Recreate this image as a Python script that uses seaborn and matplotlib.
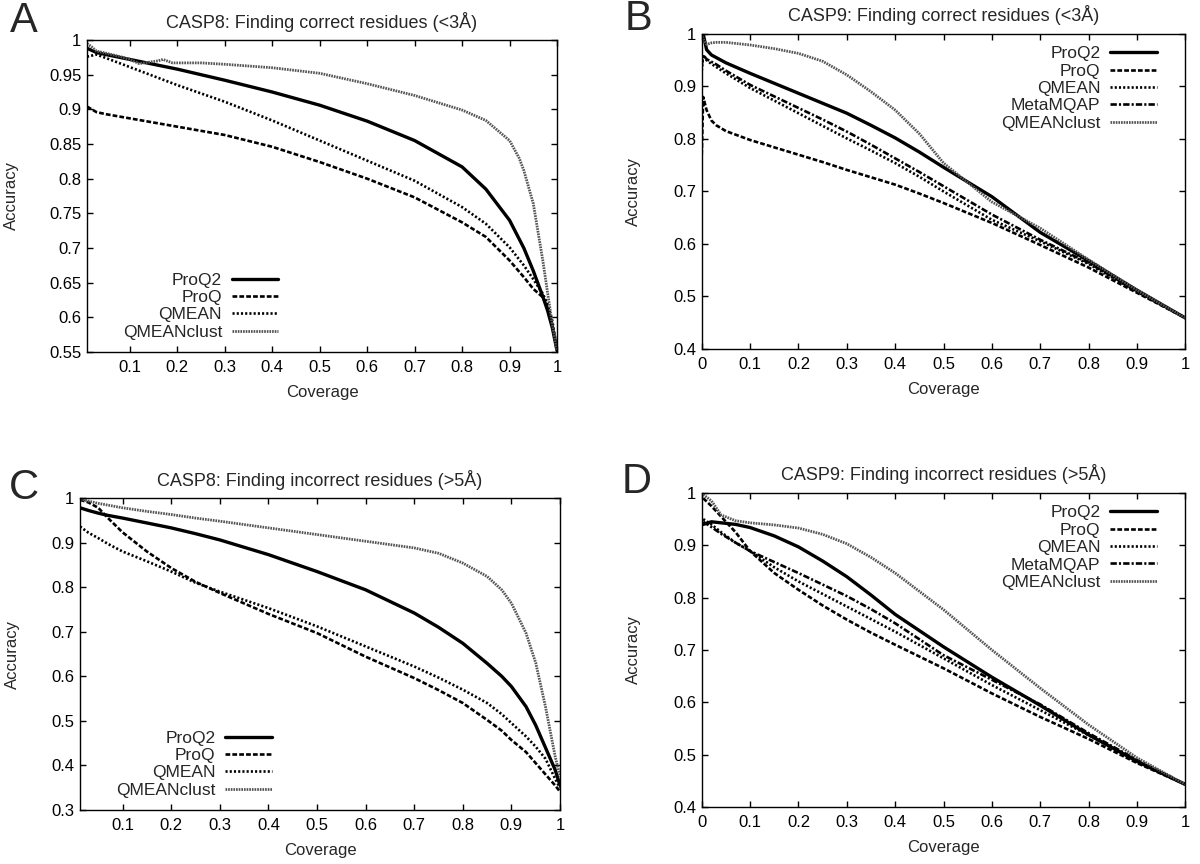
import numpy as np
import pandas as pd
import matplotlib
matplotlib.use('Agg')
import matplotlib.pyplot as plt
from matplotlib.ticker import FuncFormatter
import seaborn as sns

# --- data (coverage -> accuracy) ---

# Panel A: CASP8, correct residues (<3A)
cov_a = [0.01, 0.03, 0.05, 0.1, 0.15, 0.2, 0.3, 0.4, 0.5, 0.6, 0.7, 0.8, 0.85, 0.9, 0.93, 0.95, 0.97, 0.98, 0.99, 1.0]
a_proq2 = [0.988, 0.982, 0.979, 0.972, 0.965, 0.958, 0.942, 0.925, 0.906, 0.883, 0.855, 0.817, 0.785, 0.740, 0.700, 0.667, 0.630, 0.610, 0.585, 0.552]
a_proq = [0.904, 0.896, 0.893, 0.887, 0.881, 0.875, 0.863, 0.846, 0.824, 0.800, 0.773, 0.737, 0.716, 0.682, 0.658, 0.641, 0.629, 0.614, 0.590, 0.552]
a_qmean = [0.976, 0.979, 0.974, 0.961, 0.948, 0.935, 0.911, 0.884, 0.855, 0.826, 0.797, 0.759, 0.735, 0.701, 0.675, 0.655, 0.634, 0.619, 0.595, 0.555]
cov_a_clust = [0.01, 0.02, 0.03, 0.05, 0.08, 0.1, 0.12, 0.14, 0.16, 0.17, 0.19, 0.2, 0.25, 0.3, 0.4, 0.5, 0.6, 0.7, 0.8, 0.85, 0.9, 0.92, 0.93, 0.95, 0.97, 0.99, 1.0]
a_clust = [0.995, 0.990, 0.984, 0.981, 0.976, 0.972, 0.966, 0.968, 0.970, 0.972, 0.967, 0.967, 0.967, 0.965, 0.960, 0.952, 0.937, 0.920, 0.899, 0.884, 0.855, 0.830, 0.812, 0.764, 0.682, 0.590, 0.552]

# Panel B: CASP9, correct residues (<3A)
cov_b = [0.0, 0.003, 0.01, 0.02, 0.03, 0.05, 0.1, 0.15, 0.2, 0.25, 0.3, 0.35, 0.4, 0.45, 0.5, 0.6, 0.7, 0.8, 0.9, 1.0]
b_proq2 = [0.990, 1.000, 0.970, 0.960, 0.955, 0.945, 0.925, 0.906, 0.887, 0.868, 0.849, 0.826, 0.802, 0.775, 0.746, 0.690, 0.622, 0.568, 0.512, 0.459]
b_proq = [0.770, 0.880, 0.855, 0.835, 0.826, 0.815, 0.798, 0.784, 0.770, 0.756, 0.741, 0.727, 0.713, 0.696, 0.678, 0.640, 0.598, 0.555, 0.507, 0.459]
b_qmean = [0.930, 0.960, 0.950, 0.943, 0.937, 0.925, 0.897, 0.873, 0.849, 0.825, 0.801, 0.778, 0.754, 0.728, 0.700, 0.646, 0.605, 0.562, 0.509, 0.459]
b_meta = [0.940, 0.960, 0.952, 0.947, 0.942, 0.930, 0.903, 0.881, 0.859, 0.837, 0.814, 0.789, 0.763, 0.737, 0.710, 0.656, 0.608, 0.564, 0.510, 0.459]
b_clust = [1.000, 0.990, 0.980, 0.983, 0.984, 0.984, 0.979, 0.972, 0.963, 0.948, 0.922, 0.890, 0.855, 0.810, 0.754, 0.680, 0.630, 0.570, 0.512, 0.459]

# Panel C: CASP8, incorrect residues (>5A)
cov_c = [0.0125, 0.03, 0.05, 0.07, 0.1, 0.15, 0.2, 0.25, 0.3, 0.4, 0.5, 0.6, 0.7, 0.75, 0.8, 0.85, 0.88, 0.9, 0.93, 0.95, 0.97, 0.99, 1.0]
c_proq2 = [0.978, 0.972, 0.966, 0.961, 0.955, 0.944, 0.933, 0.920, 0.906, 0.873, 0.835, 0.794, 0.742, 0.710, 0.674, 0.629, 0.600, 0.577, 0.532, 0.490, 0.440, 0.390, 0.355]
c_proq = [0.996, 0.990, 0.978, 0.955, 0.923, 0.880, 0.843, 0.812, 0.787, 0.740, 0.697, 0.644, 0.596, 0.569, 0.540, 0.502, 0.478, 0.457, 0.430, 0.405, 0.380, 0.355, 0.341]
c_qmean = [0.936, 0.922, 0.910, 0.897, 0.880, 0.858, 0.835, 0.810, 0.790, 0.753, 0.712, 0.667, 0.622, 0.597, 0.570, 0.540, 0.515, 0.495, 0.465, 0.442, 0.415, 0.370, 0.349]
c_clust = [0.998, 0.993, 0.988, 0.984, 0.978, 0.970, 0.963, 0.955, 0.948, 0.933, 0.918, 0.903, 0.888, 0.876, 0.854, 0.824, 0.794, 0.764, 0.697, 0.630, 0.532, 0.420, 0.375]

# Panel D: CASP9, incorrect residues (>5A)
cov_d = [0.003, 0.02, 0.04, 0.07, 0.1, 0.15, 0.2, 0.25, 0.3, 0.35, 0.4, 0.5, 0.6, 0.7, 0.8, 0.9, 1.0]
d_proq2 = [0.940, 0.945, 0.943, 0.940, 0.934, 0.918, 0.897, 0.870, 0.840, 0.805, 0.768, 0.706, 0.648, 0.594, 0.538, 0.487, 0.443]
d_proq = [0.990, 0.975, 0.955, 0.925, 0.889, 0.847, 0.815, 0.785, 0.758, 0.733, 0.710, 0.665, 0.617, 0.572, 0.530, 0.484, 0.443]
d_qmean = [0.950, 0.940, 0.925, 0.905, 0.889, 0.858, 0.831, 0.807, 0.783, 0.759, 0.735, 0.684, 0.633, 0.585, 0.537, 0.489, 0.443]
d_meta = [0.945, 0.935, 0.922, 0.905, 0.889, 0.868, 0.847, 0.825, 0.803, 0.778, 0.751, 0.690, 0.643, 0.596, 0.541, 0.490, 0.443]
d_clust = [0.997, 0.985, 0.958, 0.947, 0.943, 0.939, 0.933, 0.921, 0.903, 0.877, 0.847, 0.777, 0.700, 0.627, 0.557, 0.494, 0.443]

# --- styling (gnuplot-ish black & white) ---
sns.set_theme(style='ticks')
plt.rcParams['font.family'] = ['Liberation Sans', 'DejaVu Sans']
plt.rcParams['axes.linewidth'] = 1.0

STYLES = {
    'ProQ2': dict(color='black', lw=2.4, ls='-'),
    'ProQ': dict(color='black', lw=1.9, ls=(0, (1.8, 0.8))),
    'QMEAN': dict(color='black', lw=1.9, ls=(0, (0.8, 0.8))),
    'MetaMQAP': dict(color='black', lw=1.9, ls=(0, (2.4, 0.8, 0.8, 0.8))),
    'QMEANclust': dict(color='#555555', lw=2.0, ls=(0, (0.6, 0.35))),
}

fmt = FuncFormatter(lambda v, p: '%g' % round(v, 3))


def draw_panel(ax, series, title, xlim, ylim, yticks, xticks, legend_kw):
    for name, xs, ys in series:
        st = STYLES[name]
        sns.lineplot(x=xs, y=ys, ax=ax, color=st['color'], linewidth=st['lw'],
                     linestyle=st['ls'], label=name, sort=False, estimator=None)
    ax.set_xlim(*xlim)
    ax.set_ylim(*ylim)
    ax.set_xticks(xticks)
    ax.set_yticks(yticks)
    ax.xaxis.set_major_formatter(fmt)
    ax.yaxis.set_major_formatter(fmt)
    ax.tick_params(direction='in', top=True, right=True, length=4, width=1,
                   labelsize=12, colors='black')
    ax.tick_params(axis='y', pad=4)
    ax.tick_params(axis='x', pad=6)
    for s in ax.spines.values():
        s.set_color('black')
    ax.set_title(title, fontsize=13, pad=9)
    ax.set_xlabel('Coverage', fontsize=12)
    ax.set_ylabel('Accuracy', fontsize=12)
    ax.legend(frameon=False, markerfirst=False, fontsize=12.5, handlelength=2.7,
              handletextpad=0.55, labelspacing=0.13, borderpad=0.2, **legend_kw)


fig = plt.figure(figsize=(12, 8.64), dpi=100)
ax_a = fig.add_axes([0.0725, 0.5926, 0.3917, 0.3611])
ax_b = fig.add_axes([0.5848, 0.5961, 0.4030, 0.3646])
ax_c = fig.add_axes([0.0667, 0.0625, 0.4000, 0.3611])
ax_d = fig.add_axes([0.5848, 0.0660, 0.4030, 0.3634])

draw_panel(ax_a,
           [('ProQ2', cov_a, a_proq2), ('ProQ', cov_a, a_proq),
            ('QMEAN', cov_a, a_qmean), ('QMEANclust', cov_a_clust, a_clust)],
           u'CASP8: Finding correct residues (<3\u00c5)', (0.01, 1.0), (0.55, 1.0),
           np.arange(0.55, 1.001, 0.05), np.arange(0.1, 1.001, 0.1),
           dict(loc='lower left', bbox_to_anchor=(0.05, 0.0)))

draw_panel(ax_b,
           [('ProQ2', cov_b, b_proq2), ('ProQ', cov_b, b_proq),
            ('QMEAN', cov_b, b_qmean), ('MetaMQAP', cov_b, b_meta),
            ('QMEANclust', cov_b, b_clust)],
           u'CASP9: Finding correct residues (<3\u00c5)', (0.0, 1.0), (0.4, 1.0),
           np.arange(0.4, 1.001, 0.1), np.arange(0.0, 1.001, 0.1),
           dict(loc='upper right', bbox_to_anchor=(0.966, 1.0)))

draw_panel(ax_c,
           [('ProQ2', cov_c, c_proq2), ('ProQ', cov_c, c_proq),
            ('QMEAN', cov_c, c_qmean), ('QMEANclust', cov_c, c_clust)],
           u'CASP8: Finding incorrect residues (>5\u00c5)', (0.0125, 1.0), (0.3, 1.0),
           np.arange(0.3, 1.001, 0.1), np.arange(0.1, 1.001, 0.1),
           dict(loc='lower left', bbox_to_anchor=(0.05, 0.0)))

draw_panel(ax_d,
           [('ProQ2', cov_d, d_proq2), ('ProQ', cov_d, d_proq),
            ('QMEAN', cov_d, d_qmean), ('MetaMQAP', cov_d, d_meta),
            ('QMEANclust', cov_d, d_clust)],
           u'CASP9: Finding incorrect residues (>5\u00c5)', (0.0, 1.0), (0.4, 1.0),
           np.arange(0.4, 1.001, 0.1), np.arange(0.0, 1.001, 0.1),
           dict(loc='upper right', bbox_to_anchor=(0.966, 1.0)))

# axis label placement like the original
for ax, ylx in [(ax_a, -0.16), (ax_b, -0.141), (ax_c, -0.141), (ax_d, -0.141)]:
    ax.yaxis.set_label_coords(ylx, 0.5)
    ax.yaxis.label.set_va('center')
    ax.xaxis.set_label_coords(0.5, -0.13)
    ax.xaxis.label.set_va('center')

# panel letters
for letter, x, y in [('A', 24, 21), ('B', 638, 19), ('C', 24, 488), ('D', 637, 482)]:
    fig.text(x / 1200, 1 - y / 864, letter, fontsize=30, ha='center', va='center')

fig.savefig('out.png', dpi=100, facecolor='white')
